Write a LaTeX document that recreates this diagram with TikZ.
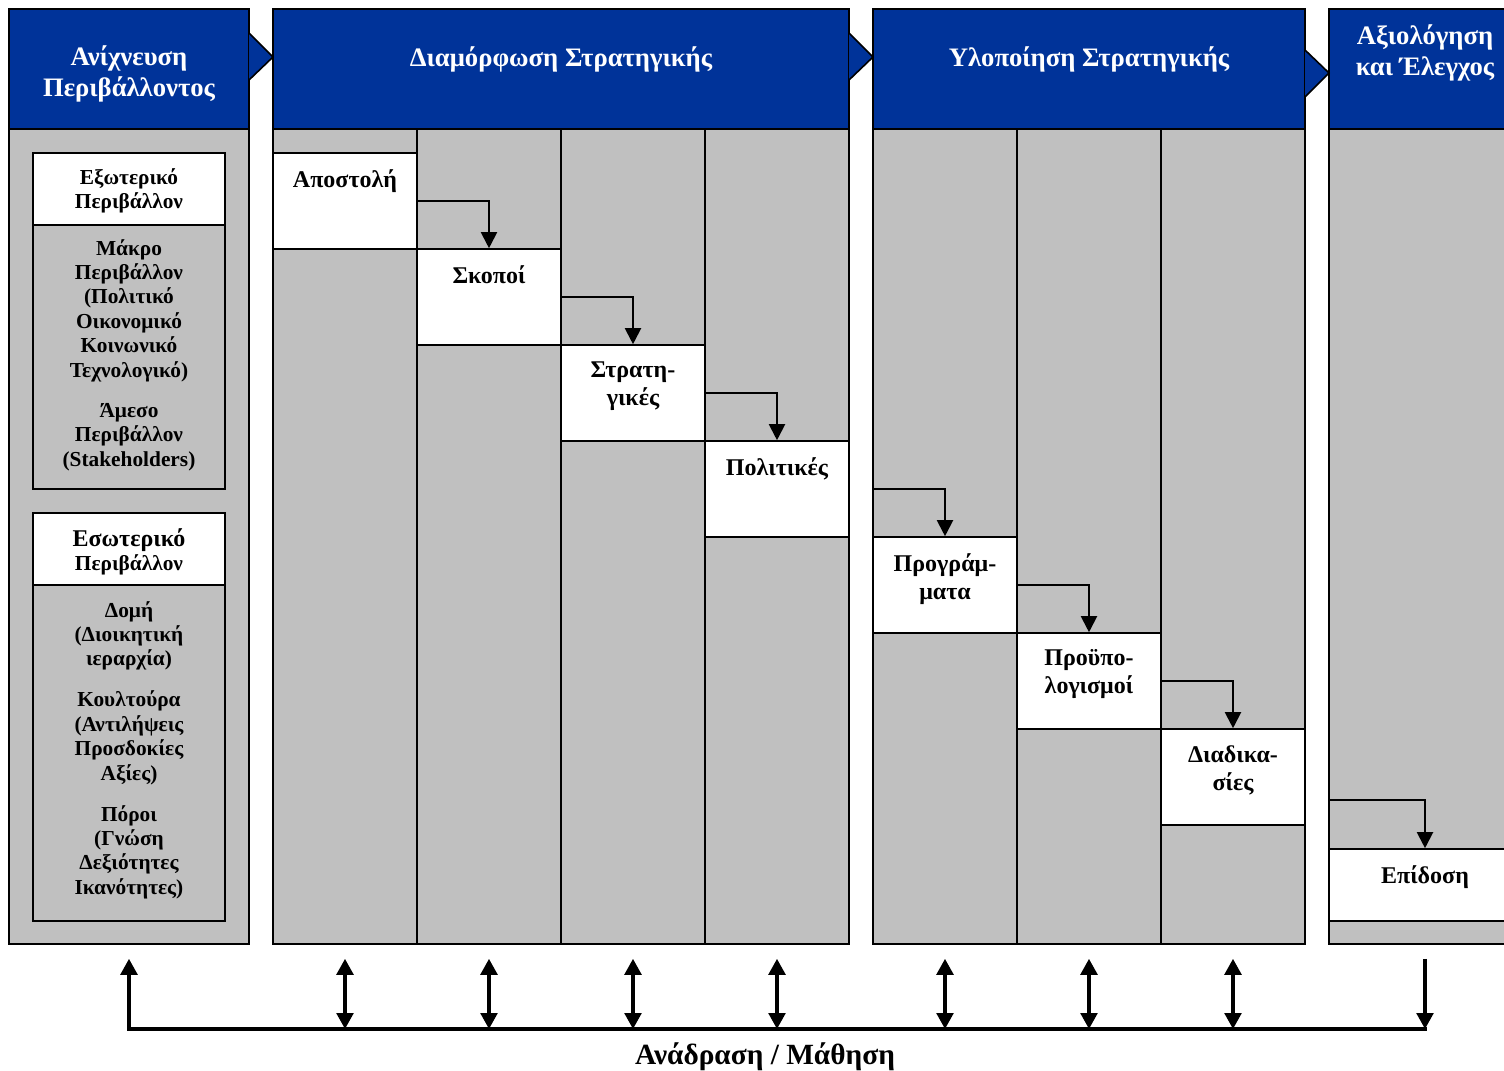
\documentclass[tikz,border=0pt]{standalone}
\usepackage{fontspec}
\setmainfont{Liberation Serif}
\usetikzlibrary{positioning,fit,arrows.meta}

\definecolor{headblue}{RGB}{0,51,153}
\definecolor{lanegray}{RGB}{192,192,192}

\tikzset{
  lane/.style={draw, fill=lanegray, line width=1.2pt, inner sep=0pt},
  head/.style={draw, fill=headblue, line width=1.2pt, inner sep=0pt},
  whitebox/.style={draw, fill=white, line width=1.2pt, inner sep=0pt},
  headtext/.style={text=white, align=center, inner sep=0pt, font=\bfseries\fontsize{20}{23}\selectfont},
  stagetext/.style={anchor=north, align=center, inner sep=0pt, font=\bfseries\fontsize{18}{21}\selectfont, execute at begin node=\strut},
  envtext/.style={align=center, inner sep=0pt, font=\bfseries\fontsize{16}{18.3}\selectfont},
  flow/.style={-{Triangle[width=12pt,length=12pt]}, line width=1.5pt},
  fb/.style={line width=2.6pt, >={Triangle[width=12.5pt,length=12pt]}},
  fblabel/.style={inner sep=0pt, font=\bfseries\fontsize{22}{26}\selectfont},
}

\begin{document}
\begin{tikzpicture}[x=0.75pt, y=-0.75pt]
    \useasboundingbox (0,0) rectangle (1504,1071);
    \clip (0,0) rectangle (1504,1071);

    % Lanes
    \node[lane, fit={(9,129) (249,944)}] (scan) {};
    \node[lane, fit={(273,129) (417,944)}] (d1) {};
    \node[lane, fit={(417,129) (561,944)}] (d2) {};
    \node[lane, fit={(561,129) (705,944)}] (d3) {};
    \node[lane, fit={(705,129) (849,944)}] (d4) {};
    \node[lane, fit={(873,129) (1017,944)}] (y1) {};
    \node[lane, fit={(1017,129) (1161,944)}] (y2) {};
    \node[lane, fit={(1161,129) (1305,944)}] (y3) {};
    \node[lane, fit={(1329,129) (1521,944)}] (ev) {};

    % Headers
    \node[head, fit={(9,9) (249,129)}] (h1) {};
    \node[head, fit={(273,9) (849,129)}] (h2) {};
    \node[head, fit={(873,9) (1305,129)}] (h3) {};
    \node[head, fit={(1329,9) (1521,129)}] (h4) {};
    \filldraw[fill=headblue, line width=1.2pt] (249,33) -- (273,57) -- (249,80);
    \filldraw[fill=headblue, line width=1.2pt] (849,33) -- (873,57) -- (849,80);
    \filldraw[fill=headblue, line width=1.2pt] (1305,50) -- (1329,73) -- (1305,97);
    \node[headtext] (h1-t) at (129,74) {Ανίχνευση\\Περιβάλλοντος};
    \node[headtext] (h2-t) at (561,59) {Διαμόρφωση Στρατηγικής};
    \node[headtext] (h3-t) at (1089,59) {Υλοποίηση Στρατηγικής};
    \node[headtext] (h4-t) at (1425,53) {Αξιολόγηση\\και Έλεγχος};

    % Environment boxes
    \node[whitebox, fill=lanegray, fit={(33,153) (225,489)}] (ext) {};
    \node[whitebox, fit={(33,153) (225,225)}] (ext-t) {};
    \node[envtext] (ext-tt) at ([yshift=-1.5pt]ext-t) {Εξωτερικό\\Περιβάλλον};
    \node[envtext] (ext-b) at (129,355) {Μάκρο\\Περιβάλλον\\(Πολιτικό\\Οικονομικό\\Κοινωνικό\\Τεχνολογικό)\\[12pt]Άμεσο\\Περιβάλλον\\(Stakeholders)};

    \node[whitebox, fill=lanegray, fit={(33,513) (225,921)}] (int) {};
    \node[whitebox, fit={(33,513) (225,585)}] (int-t) {};
    \node[envtext] (int-tt) at ([yshift=-2pt]int-t) {{\fontsize{18}{18.3}\selectfont Εσωτερικό}\\Περιβάλλον};
    \node[envtext] (int-b) at (129,750) {Δομή\\(Διοικητική\\ιεραρχία)\\[12.5pt]Κουλτούρα\\(Αντιλήψεις\\Προσδοκίες\\Αξίες)\\[12.5pt]Πόροι\\(Γνώση\\Δεξιότητες\\Ικανότητες)};

    % Stages
    \node[whitebox, fit={(273,153) (417,249)}] (apo) {};
    \node[whitebox, fit={(417,249) (561,345)}] (sko) {};
    \node[whitebox, fit={(561,345) (705,441)}] (str) {};
    \node[whitebox, fit={(705,441) (849,537)}] (pol) {};
    \node[whitebox, fit={(873,537) (1017,633)}] (prog) {};
    \node[whitebox, fit={(1017,633) (1161,729)}] (proy) {};
    \node[whitebox, fit={(1161,729) (1305,825)}] (diad) {};
    \node[whitebox, fit={(1329,849) (1521,921)}] (epi) {};

    \node[stagetext] (apo-t) at ([yshift=-11.5pt]apo.north) {Αποστολή};
    \node[stagetext] (sko-t) at ([yshift=-11.5pt]sko.north) {Σκοποί};
    \node[stagetext] (str-t) at ([yshift=-13pt]str.north) {Στρατη-\\γικές};
    \node[stagetext] (pol-t) at ([yshift=-11.5pt]pol.north) {Πολιτικές};
    \node[stagetext] (prog-t) at ([yshift=-13pt]prog.north) {Προγράμ-\\ματα};
    \node[stagetext] (proy-t) at ([yshift=-13pt]proy.north) {Προϋπο-\\λογισμοί};
    \node[stagetext] (diad-t) at ([yshift=-13pt]diad.north) {Διαδικα-\\σίες};
    \node[stagetext] (epi-t) at ([yshift=-11.5pt]epi.north) {Επίδοση};

    % Steps
    \coordinate (epi-in) at ([yshift=36pt]epi.north);
    \draw[flow] (apo.east) -| (sko.north);
    \draw[flow] (sko.east) -| (str.north);
    \draw[flow] (str.east) -| (pol.north);
    \draw[flow] (pol.east -| y1.west) -| (prog.north);
    \draw[flow] (prog.east) -| (proy.north);
    \draw[flow] (proy.east) -| (diad.north);
    \draw[flow] (epi-in -| ev.west) -| (epi.north);

    % Feedback
    \coordinate (fb-w) at (129,1029);
    \coordinate (fb-e) at (1425,1029);
    \draw[fb, line cap=rect] (fb-w) -- (fb-e);
    \draw[fb,<-] ([yshift=-10.5pt]scan.south) -- (fb-w);
    \draw[fb,<->] ([yshift=-10.5pt]d1.south) -- (d1.south |- fb-w);
    \draw[fb,<->] ([yshift=-10.5pt]d2.south) -- (d2.south |- fb-w);
    \draw[fb,<->] ([yshift=-10.5pt]d3.south) -- (d3.south |- fb-w);
    \draw[fb,<->] ([yshift=-10.5pt]d4.south) -- (d4.south |- fb-w);
    \draw[fb,<->] ([yshift=-10.5pt]y1.south) -- (y1.south |- fb-w);
    \draw[fb,<->] ([yshift=-10.5pt]y2.south) -- (y2.south |- fb-w);
    \draw[fb,<->] ([yshift=-10.5pt]y3.south) -- (y3.south |- fb-w);
    \draw[fb,->] ([yshift=-10.5pt]ev.south) -- (fb-e);
    \node[fblabel] (fb-t) at (765,1057) {Ανάδραση / Μάθηση};
\end{tikzpicture}
\end{document}
